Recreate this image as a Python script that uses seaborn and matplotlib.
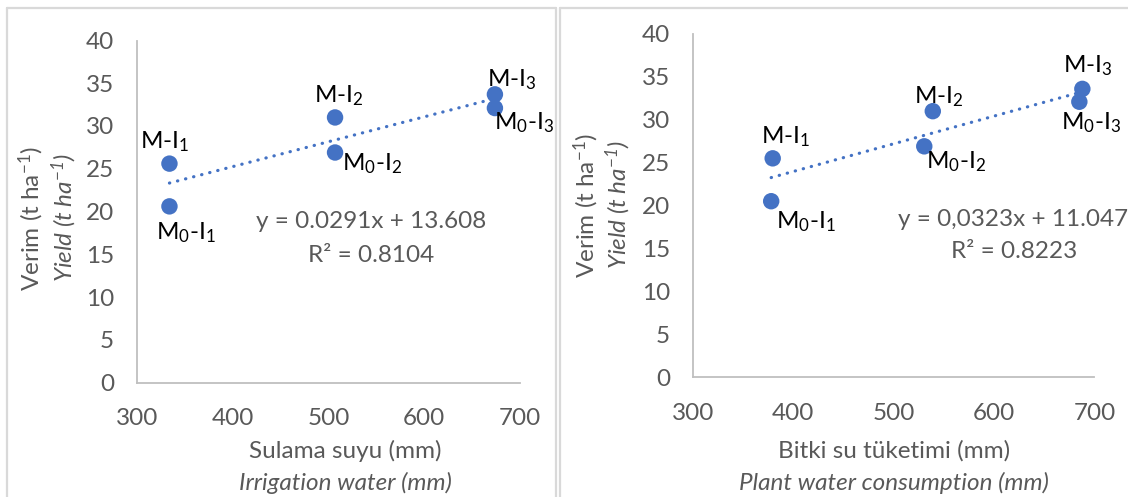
import matplotlib
matplotlib.use("Agg")
import matplotlib.pyplot as plt
import seaborn as sns
import numpy as np
from matplotlib.lines import Line2D

# ---------------- data ----------------
labels = ["M-I$_1$", "M$_0$-I$_1$", "M-I$_2$", "M$_0$-I$_2$", "M-I$_3$", "M$_0$-I$_3$"]

irrigation_x = [334, 334, 507, 507, 674, 674]
irrigation_y = [25.6, 20.6, 31.0, 26.9, 33.7, 32.1]
irrigation_slope, irrigation_intercept = 0.0291, 13.608

consumption_x = [379.5, 378, 539, 530.5, 688, 685]
consumption_y = [25.5, 20.5, 31.0, 26.9, 33.6, 32.1]
consumption_slope, consumption_intercept = 0.0323, 11.047

x_ticks = [300, 400, 500, 600, 700]
y_ticks = [0, 5, 10, 15, 20, 25, 30, 35, 40]

# ---------------- style ----------------
sns.set_theme(style="white")
plt.rcParams["font.family"] = ["Lato", "DejaVu Sans"]
plt.rcParams["mathtext.fontset"] = "custom"
plt.rcParams["mathtext.rm"] = "Lato"
plt.rcParams["mathtext.it"] = "Lato:italic"
plt.rcParams["mathtext.default"] = "regular"

W, H = 1128, 497
DPI = 100
FS = 17.5
GRAY = "#595959"
SPINE = "#BFBFBF"
BLUE = "#4472C4"

fig = plt.figure(figsize=(W / DPI, H / DPI), dpi=DPI)
fig.patch.set_facecolor("white")


def fpos(x, y):
    return x / W, 1 - y / H


def make_axes(rect):
    ax = fig.add_axes(rect)
    ax.set_xlim(300, 700)
    ax.set_ylim(0, 40)
    ax.set_xticks(x_ticks)
    ax.set_yticks(y_ticks)
    for s in ["top", "right"]:
        ax.spines[s].set_visible(False)
    for s in ["left", "bottom"]:
        ax.spines[s].set_color(SPINE)
        ax.spines[s].set_linewidth(1.3)
    ax.tick_params(axis="both", direction="out", length=5.5, width=1.3,
                   color=SPINE, labelcolor=GRAY, labelsize=FS)
    ax.tick_params(axis="y", pad=11)
    ax.tick_params(axis="x", pad=13)
    ax.set_facecolor("white")
    ax.set_xlabel("")
    ax.set_ylabel("")
    return ax


def draw_panel(ax, xs, ys, slope, intercept, offsets):
    x0, x1 = min(xs), max(xs)
    tx = np.array([x0, x1])
    sns.lineplot(x=tx, y=slope * tx + intercept, ax=ax, color=BLUE,
                 linewidth=2.3, linestyle=(0, (0.1, 2.5)),
                 dash_capstyle="round", zorder=2)
    sns.scatterplot(x=xs, y=ys, ax=ax, color=BLUE, s=140,
                    edgecolor="none", linewidth=0, zorder=3)
    for lab, x, y, (dx, dy) in zip(labels, xs, ys, offsets):
        ax.annotate(lab, (x, y), xytext=(dx / 1.389, -dy / 1.389),
                    textcoords="offset points", ha="center", va="center",
                    fontsize=FS, color="black", annotation_clip=False)


# ---------------- left panel ----------------
axL = make_axes([136.9 / W, 1 - 382.5 / H, 382.9 / W, 342 / H])
draw_panel(axL, irrigation_x, irrigation_y, irrigation_slope, irrigation_intercept,
           [(-4.4, -21.6), (16, 26.5), (3.8, -21.5), (37, 10.8), (17, -15), (29, 15)])

fig.text(*fpos(31.4, 219), "Verim (t ha$^{-1}$)", rotation=90, ha="center",
         va="center", fontsize=FS, color=GRAY)
fig.text(*fpos(64, 218), "Yield (t ha$^{-1}$)", rotation=90, ha="center",
         va="center", fontsize=FS, color=GRAY, style="italic")
fig.text(*fpos(345.5, 451), "Sulama suyu (mm)", ha="center", va="center",
         fontsize=FS, color=GRAY)
fig.text(*fpos(345.5, 483), "Irrigation water (mm)", ha="center", va="center",
         fontsize=FS, color=GRAY, style="italic")
fig.text(*fpos(371.4, 222), "y = 0.0291x + 13.608", ha="center", va="center",
         fontsize=FS, color=GRAY)
fig.text(*fpos(371.4, 256), "R² = 0.8104", ha="center", va="center",
         fontsize=FS, color=GRAY)

# ---------------- right panel ----------------
axR = make_axes([692.9 / W, 1 - 377 / H, 401.5 / W, 343 / H])
draw_panel(axR, consumption_x, consumption_y, consumption_slope, consumption_intercept,
           [(12.5, -21.4), (34.4, 20.3), (6.3, -14.5), (32.2, 15), (5.5, -23.3), (11.6, 20.7)])

fig.text(*fpos(586.3, 206), "Verim (t ha$^{-1}$)", rotation=90, ha="center",
         va="center", fontsize=FS, color=GRAY)
fig.text(*fpos(618, 205), "Yield (t ha$^{-1}$)", rotation=90, ha="center",
         va="center", fontsize=FS, color=GRAY, style="italic")
fig.text(*fpos(894.2, 451), "Bitki su tüketimi (mm)", ha="center", va="center",
         fontsize=FS, color=GRAY)
fig.text(*fpos(894.2, 483), "Plant water consumption (mm)", ha="center",
         va="center", fontsize=FS, color=GRAY, style="italic")
fig.text(*fpos(1012.9, 219), "y = 0,0323x + 11.047", ha="center", va="center",
         fontsize=FS, color=GRAY)
fig.text(*fpos(1013.8, 251), "R² = 0.8223", ha="center", va="center",
         fontsize=FS, color=GRAY)

# ---------------- chart frames ----------------
FRAME = "#D9D9D9"
fig.add_artist(Line2D([6.5 / W, 556 / W], [1 - 7.5 / H, 1 - 7.5 / H],
                      color=FRAME, linewidth=1.6, transform=fig.transFigure))
fig.add_artist(Line2D([560 / W, 1.0], [1 - 8 / H, 1 - 8 / H],
                      color=FRAME, linewidth=1.6, transform=fig.transFigure))
fig.add_artist(Line2D([6.5 / W, 6.5 / W], [0, 1 - 7.5 / H],
                      color=FRAME, linewidth=1.6, transform=fig.transFigure))
fig.add_artist(Line2D([556 / W, 556 / W], [0, 1 - 7.5 / H],
                      color=FRAME, linewidth=1.6, transform=fig.transFigure))
fig.add_artist(Line2D([559.5 / W, 559.5 / W], [0, 1 - 8 / H],
                      color=FRAME, linewidth=1.6, transform=fig.transFigure))

fig.savefig("out.png", dpi=DPI, facecolor="white")
